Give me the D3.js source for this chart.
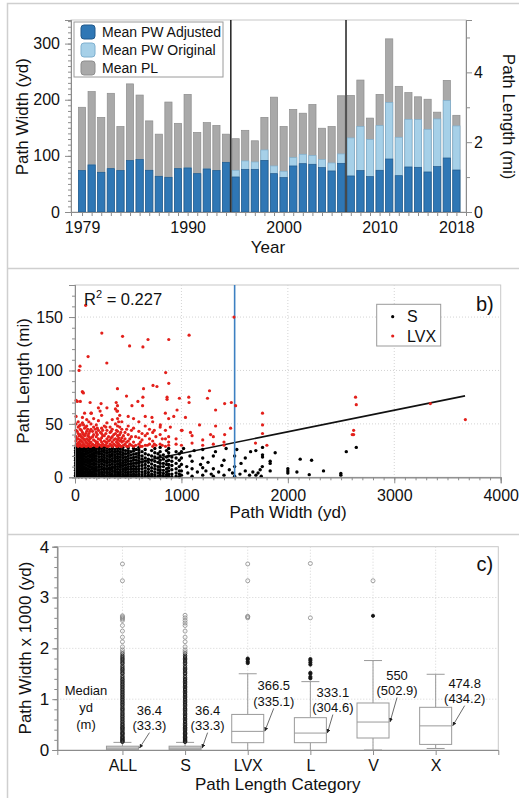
<!DOCTYPE html>
<html>
<head>
<meta charset="utf-8">
<script src="https://cdn.jsdelivr.net/npm/d3@7"></script>
<style>
  body { margin: 0; background: #fff; }
  svg text { font-family: "Liberation Sans", Arial, Helvetica, sans-serif; fill: #111; }
</style>
</head>
<body>
<svg id="fig" width="519" height="798"></svg>
<script>
// ---------- a) yearly means ----------
const years = d3.range(1979, 2019);
const pwAdjusted = [73.7, 83.8, 70.7, 77.2, 73.7, 91.5, 93.3, 74.3, 63.6, 61.8, 77.2, 78.4, 68.3, 76.6, 73.7, 88.5,
  62.4, 76, 76, 92, 68.3, 61.2, 82, 86.1, 85, 79, 73.1, 86.7,
  64.2, 73.7, 63, 74.3, 94.4, 64.7, 80.2, 79.6, 71.3, 80.8, 96.2, 74.8];
const pwOriginal = [73.7, 83.8, 70.7, 77.2, 73.7, 91.5, 93.3, 74.3, 63.6, 61.8, 77.2, 78.4, 68.3, 76.6, 73.7, 88.5,
  74.3, 90.9, 89.1, 110.5, 82, 72.5, 96.8, 102.8, 100.4, 93.3, 87.3, 103.4,
  131.9, 152.1, 128.9, 153.8, 194.8, 133.1, 165.1, 164.5, 147.3, 165.7, 198.4, 153.3];
const meanPL = [3.00, 3.45, 2.71, 3.40, 2.45, 3.67, 3.35, 2.61, 2.23, 3.15, 2.54, 3.37, 2.28, 2.56, 2.48, 2.23,
  2.10, 2.34, 2.04, 2.71, 3.29, 2.45, 2.94, 2.83, 3.08, 2.40, 2.45, 3.33,
  3.34, 3.78, 2.69, 3.37, 4.96, 3.60, 3.42, 3.30, 3.23, 2.86, 3.77, 2.77];
const yearLabels = [1979, 1990, 2000, 2010, 2018];
const breakYears = [1994.5, 2006.5];
const seriesNames = ["Mean PW Adjusted", "Mean PW Original", "Mean PL"];

// ---------- b) width vs length scatter ----------
// columns of S tornadoes: [path width yd, [path lengths mi]]
const sCols = [
  [5, [0.5, 2, 4, 6.5, 9, 11, 13.5, 16, 18, 20.5, 23, 25, 27.5]],
  [20, [1, 3, 5, 7.5, 10, 12.5, 15, 17, 19.5, 22, 24, 26.5, 28]],
  [35, [0.5, 2.5, 4.5, 7, 9.5, 12, 14, 16.5, 19, 21, 23.5, 26, 28]],
  [50, [1, 3.5, 6, 8, 10.5, 13, 15.5, 18, 20, 22.5, 25, 27]],
  [65, [0.5, 2, 4, 6.5, 9, 11.5, 14, 16, 18.5, 21, 23, 25.5, 28]],
  [80, [1.5, 3.5, 5.5, 8, 10, 12.5, 15, 17.5, 20, 22, 24.5, 27]],
  [100, [0.5, 2, 4.5, 7, 9, 11.5, 14, 16.5, 19, 21.5, 24, 26, 28]],
  [120, [1, 3, 5.5, 8, 10.5, 13, 15, 17.5, 20, 22.5, 25, 27.5]],
  [140, [0.5, 2.5, 4.5, 7, 9.5, 12, 14.5, 16.5, 19, 21, 23.5, 26, 28]],
  [160, [1, 3, 5, 7.5, 10, 12.5, 15, 17, 19.5, 22, 24.5, 27]],
  [180, [0.5, 2, 4.5, 6.5, 9, 11.5, 13.5, 16, 18.5, 21, 23, 25.5, 28]],
  [200, [1, 3, 5.5, 8, 10, 12.5, 15, 17.5, 20, 22.5, 24.5, 27]],
  [225, [0.5, 2.5, 4.5, 7, 9.5, 11.5, 14, 16.5, 19, 21.5, 23.5, 26, 28]],
  [250, [1, 3, 5, 7.5, 10, 12.5, 15, 17, 19.5, 22, 24.5, 27]],
  [275, [0.5, 2, 4.5, 7, 9, 11.5, 14, 16, 18.5, 21, 23.5, 25.5, 28]],
  [300, [1, 3.5, 5.5, 8, 10.5, 13, 15, 17.5, 20, 22.5, 25, 27.5]],
  [325, [0.5, 2.5, 4.5, 7, 9, 11.5, 14, 16.5, 19, 21, 23.5, 26]],
  [350, [1, 3, 5.5, 8, 10, 12.5, 15, 17.5, 20, 22, 24.5, 27, 28.5]],
  [375, [0.5, 2, 4.5, 6.5, 9, 11.5, 14, 16, 18.5, 21, 23.5, 26]],
  [400, [1, 3, 5, 7.5, 10, 12.5, 15, 17.5, 19.5, 22, 24.5, 27, 28.5]],
  [425, [0.5, 2.5, 4.5, 7, 9.5, 12, 14, 16.5, 19, 21.5, 24, 26.5]],
  [450, [1, 3, 5.5, 8, 10.5, 13, 15.5, 18, 20.5, 23, 25.5, 28]],
  [475, [0.5, 2, 4.5, 7, 9, 11.5, 14, 16.5, 19, 22, 25]],
  [500, [1, 3, 5, 7.5, 10, 12.5, 15, 17.5, 20, 22.5, 25, 27.5]],
  [525, [0.5, 2.5, 5, 7.5, 10, 12.5, 15, 18, 21, 24]],
  [550, [1, 3, 5.5, 8, 10.5, 13, 16, 18.5, 21.5, 24.5, 27]],
  [575, [0.5, 2.5, 5, 7.5, 10, 13, 16, 19, 22, 26]],
  [600, [1, 3, 5.5, 8, 10.5, 13, 15.5, 18, 20.5, 23, 25.5, 28]],
  [630, [0.5, 2.5, 5, 8, 11, 14, 17, 20, 24]],
  [660, [1, 3.5, 6, 9, 12, 15, 18, 22, 26]],
  [690, [0.5, 2, 4.5, 7.5, 10.5, 14, 17, 21]],
  [720, [1, 3, 6, 9, 12.5, 16, 20, 25]],
  [750, [0.5, 2.5, 5, 8, 11, 15, 19, 23, 27]],
  [780, [1, 4, 7, 10, 14, 18, 22]],
  [800, [0.5, 2, 4.5, 7, 10, 13, 16, 20, 24, 28]],
  [830, [1, 3.5, 6.5, 10, 13, 17, 21]],
  [860, [0.5, 2.5, 5, 8, 12, 15, 19, 25]],
  [880, [1, 3, 6, 9, 12, 16, 20, 23, 27]],
  [910, [0.5, 3, 7, 11, 15, 19]],
  [950, [1, 4, 8, 13, 18, 24]],
  [980, [0.5, 3, 6, 10, 16, 22]]
];
const sScatter = [
  [1000, 2], [1000, 6], [1000, 12], [1000, 18], [1000, 24], [1020, 27], [1050, 10], [1060, 4], [1080, 20],
  [1100, 1], [1100, 8], [1100, 15], [1120, 25], [1150, 5], [1180, 12], [1200, 2], [1200, 9], [1200, 18],
  [1200, 26], [1230, 6], [1250, 14], [1280, 3], [1300, 1], [1300, 8], [1300, 20], [1320, 24], [1350, 5],
  [1380, 11], [1400, 2], [1400, 16], [1420, 27], [1450, 7], [1480, 4], [1500, 1], [1500, 10], [1500, 20],
  [1520, 26], [1550, 3], [1560, 13], [1600, 6], [1600, 18], [1640, 2], [1650, 24], [1671, 5], [1699, 25],
  [1700, 2], [1720, 4], [1740, 7], [1750, 1], [1760, 10], [1762, 28], [1762, 21], [1762, 19], [1834, 15],
  [1834, 13], [1834, 6], [1881, 23], [2000, 8], [2000, 6], [2000, 4], [2085, 5], [2116, 17], [2201, 2.5],
  [2223, 16], [2335, 6], [2498, 3.5], [2498, 2], [2549, 24], [2643, 28]
];
const lvxCols = [
  [10, [30, 34, 38, 44, 50, 57, 72]], [20, [31, 36, 43]], [30, [29, 32, 36, 41, 47, 52]],
  [40, [30, 33, 39, 48]], [50, [31, 35, 40, 45, 49, 71]], [60, [29, 34, 38, 44]],
  [70, [29, 33, 37, 42, 51, 56, 80]], [80, [31, 36, 40, 49]], [90, [30, 35, 39, 46, 60]],
  [100, [29, 33, 41, 47]], [110, [29, 32, 36, 43, 48, 54]], [120, [30, 35, 39, 45]],
  [130, [31, 34, 38, 41, 52]], [140, [29, 32, 36, 43]], [150, [29, 33, 37, 45, 50, 60]],
  [165, [31, 38, 43]], [175, [30, 35, 40, 47, 55]], [190, [30, 34, 45]],
  [200, [29, 32, 38, 42, 49]], [210, [29, 33, 40, 46]], [220, [31, 36, 44, 53, 65]],
  [240, [30, 35, 42]], [250, [29, 33, 37, 41, 46, 58]], [260, [31, 39, 44]],
  [275, [30, 34, 39, 48]], [290, [30, 33, 41, 47]], [300, [29, 32, 36, 44, 51, 65]],
  [315, [29, 34, 38]], [330, [31, 35, 42, 47]], [340, [30, 37, 43]],
  [350, [29, 33, 38, 45, 54]], [365, [31, 35, 40]], [380, [30, 36, 41, 50, 64]],
  [390, [29, 33, 44]], [400, [29, 32, 35, 39, 43, 48, 55, 62]], [410, [31, 37, 52]],
  [420, [30, 34, 40, 47, 58]], [430, [29, 35, 42]], [440, [29, 33, 37, 45, 52]],
  [455, [30, 34, 39]], [470, [31, 36, 42]], [485, [29, 33, 45]],
  [500, [29, 34, 40, 48, 57]], [515, [31, 36]], [530, [30, 38, 44]], [550, [29, 33, 46, 55]],
  [570, [30, 38]], [600, [31, 37, 43, 52]], [615, [29, 33]], [630, [29, 35, 41]],
  [660, [30, 39, 48, 57]], [680, [30, 41]], [700, [31, 36, 45]], [730, [29, 34, 42, 52]],
  [745, [31, 44]], [760, [30, 38]], [800, [31, 40, 47]], [820, [30, 36]], [850, [29, 36, 44]],
  [880, [30, 33, 38, 55]], [950, [31, 36]], [1000, [30, 44]], [1100, [32, 39]], [1200, [30, 35]],
  [1300, [31, 38]], [1400, [30, 33]]
];
const lvxScatter = [
  [100, 161], [252, 135], [447, 132], [686, 129], [881, 129], [1072, 133], [513, 123], [638, 122],
  [123, 113], [299, 107], [47, 104], [38, 100], [1494, 150], [852, 98], [881, 88], [399, 83], [644, 83],
  [733, 86], [770, 85], [1264, 81], [69, 80], [79, 79], [484, 76], [591, 71], [638, 75], [865, 75],
  [981, 74], [1069, 75], [1072, 70], [1245, 74], [1406, 69], [1469, 70], [1509, 67], [22, 71], [142, 70],
  [245, 69], [387, 70], [399, 67], [535, 67], [635, 67], [865, 73], [959, 63], [1321, 63], [154, 60],
  [236, 62], [393, 62], [849, 60], [723, 56], [928, 57], [1038, 56], [1170, 49], [1321, 48], [1462, 46],
  [1406, 40], [1274, 40], [1085, 42], [1006, 44], [896, 47], [802, 49],
  [1696, 32], [1762, 60], [1762, 49], [1762, 41], [1803, 30], [2636, 75], [2643, 68], [2618, 44],
  [2605, 40], [2618, 40], [3339, 69], [3668, 54]
];
const fit = { intercept: 2.2, slope: 0.0202, xMax: 3665, r2: "0.227" };
const widthCut = 1500;

// ---------- c) path width by path length category ----------
const categories = ["ALL", "S", "LVX", "L", "V", "X"];
const boxQ1 = [0.008, 0.008, 0.144, 0.144, 0.236, 0.11];
const boxMedian = [0.0364, 0.0364, 0.3665, 0.3331, 0.55, 0.4748];
const boxQ3 = [0.075, 0.075, 0.70, 0.636, 0.925, 0.84];
const whiskerLo = [0, 0, 0, 0, 0, 0.03];
const whiskerHi = [0.15, 0.15, 1.50, 1.345, 1.76, 1.49];
const medianYd = ["36.4", "36.4", "366.5", "333.1", "550", "474.8"];
const medianM = ["(33.3)", "(33.3)", "(335.1)", "(304.6)", "(502.9)", "(434.2)"];
const denseOut = [0.16, 0.17, 0.19, 0.2, 0.22, 0.24, 0.25, 0.27, 0.3, 0.32, 0.33, 0.35, 0.38, 0.4, 0.42, 0.44,
  0.45, 0.48, 0.5, 0.52, 0.55, 0.57, 0.6, 0.62, 0.65, 0.67, 0.7, 0.72, 0.75, 0.78, 0.8, 0.82, 0.85, 0.88, 0.9,
  0.93, 0.95, 0.98, 1.0, 1.03, 1.05, 1.08, 1.1, 1.13, 1.15, 1.18, 1.2, 1.23, 1.25, 1.28, 1.3, 1.33, 1.35,
  1.38, 1.4, 1.43, 1.46, 1.5, 1.52, 1.55, 1.58, 1.6, 1.63, 1.66, 1.7, 1.72, 1.75, 1.78, 1.8, 1.83, 1.86, 1.9];
const nearOut = [denseOut, denseOut, [1.71, 1.74, 1.78, 1.8], [1.41, 1.44, 1.5, 1.52, 1.68, 1.72, 1.76, 1.79], [2.64], []];
const farOut = [
  [1.93, 1.97, 2.03, 2.13, 2.22, 2.34, 2.45, 2.55, 2.58, 2.6, 2.62, 2.64, 3.33, 3.66],
  [1.93, 1.97, 2.03, 2.13, 2.22, 2.34, 2.45, 2.5, 2.55, 2.6, 2.65],
  [2.6, 2.62, 2.63, 3.33, 3.66],
  [2.6, 3.67],
  [3.33],
  []
];
// label offsets from box right edge / median (layout only)
const annDx = [11, 6.5, 10, 6.5, 8, 13];
const annDy = [38, 38, 45.5, 41, 47, 42.7];

const svg = d3.select("#fig");
const axisGrey = "#8c8c8c", frameGrey = "#c8c8c8";

// figure panel borders
svg.append("path").attr("d", "M7.5,798V3.5H519M7.5,268.5H519M7.5,534.5H519")
  .attr("fill", "none").attr("stroke", "#cfcfcf").attr("stroke-width", 1.5);

function styleAxis(g, size) {
  g.selectAll("path.domain").attr("stroke", axisGrey);
  g.selectAll(".tick line").attr("stroke", axisGrey);
  g.selectAll(".tick text").attr("font-size", size || 16).attr("fill", "#111")
    .attr("font-family", '"Liberation Sans", Arial, sans-serif');
}

// ================= panel a =================
const xA = d3.scaleLinear().domain([1977.85, 2019]).range([71, 466]);
const yL = d3.scaleLinear().domain([0, 342]).range([212, 20]);
const yR = d3.scaleLinear().domain([0, 5.5]).range([212, 20]);
const barW = 7.2;

svg.append("rect").attr("x", 71).attr("y", 20).attr("width", 395).attr("height", 192)
  .attr("fill", "none").attr("stroke", frameGrey);

const gA = svg.append("g");
gA.selectAll("rect.pl").data(years).join("rect")
  .attr("x", d => xA(d) - barW / 2).attr("width", barW)
  .attr("y", (d, i) => yR(meanPL[i])).attr("height", (d, i) => yR(0) - yR(meanPL[i]))
  .attr("fill", "#a9a9a9").attr("stroke", "#8d8d8d").attr("stroke-width", 0.7);
gA.selectAll("rect.orig").data(years).join("rect")
  .attr("x", d => xA(d) - barW / 2).attr("width", barW)
  .attr("y", (d, i) => yL(pwOriginal[i])).attr("height", (d, i) => yL(0) - yL(pwOriginal[i]))
  .attr("fill", "#a6d0e8").attr("stroke", "#7fb0cf").attr("stroke-width", 0.7);
gA.selectAll("rect.adj").data(years).join("rect")
  .attr("x", d => xA(d) - barW / 2).attr("width", barW)
  .attr("y", (d, i) => yL(pwAdjusted[i])).attr("height", (d, i) => yL(0) - yL(pwAdjusted[i]))
  .attr("fill", "#2f77b5").attr("stroke", "#21598b").attr("stroke-width", 0.7);

svg.selectAll("line.brk").data(breakYears).join("line")
  .attr("x1", d => xA(d)).attr("x2", d => xA(d)).attr("y1", 20).attr("y2", 212)
  .attr("stroke", "#111").attr("stroke-width", 1.4);

svg.append("g").attr("transform", "translate(71,0)")
  .call(d3.axisLeft(yL).tickValues(d3.range(0, 341, 10)).tickSize(3).tickFormat(""))
  .call(g => styleAxis(g));
svg.append("g").attr("transform", "translate(71,0)")
  .call(d3.axisLeft(yL).tickValues([0, 100, 200, 300]).tickSize(6).tickPadding(5))
  .call(g => styleAxis(g));
svg.append("g").attr("transform", "translate(466,0)")
  .call(d3.axisRight(yR).tickValues([1, 3, 5]).tickSize(4).tickFormat(""))
  .call(g => styleAxis(g));
svg.append("g").attr("transform", "translate(466,0)")
  .call(d3.axisRight(yR).tickValues([0, 2, 4]).tickSize(6).tickPadding(2).tickFormat(d3.format("d")))
  .call(g => styleAxis(g));
svg.append("g").attr("transform", "translate(0,212)")
  .call(d3.axisBottom(xA).tickValues(years).tickSize(4)
    .tickFormat(d => yearLabels.includes(d) ? String(d) : ""))
  .call(g => styleAxis(g))
  .call(g => g.selectAll(".tick text").attr("y", 10));

svg.append("text").attr("x", 268).attr("y", 253).attr("text-anchor", "middle")
  .attr("font-size", 17).text("Year");
svg.append("text").attr("transform", "translate(22.5,116.7) rotate(-90)").attr("dy", "0.35em")
  .attr("text-anchor", "middle").attr("font-size", 17).text("Path Width (yd)");
svg.append("text").attr("transform", "translate(509,116.7) rotate(90)").attr("dy", "0.35em")
  .attr("text-anchor", "middle").attr("font-size", 17).text("Path Length (mi)");

const legA = svg.append("g");
legA.append("rect").attr("x", 74).attr("y", 22).attr("width", 149).attr("height", 55)
  .attr("fill", "#fff").attr("stroke", "#9a9a9a");
const legFill = ["#2f77b5", "#a6d0e8", "#a9a9a9"], legStroke = ["#21598b", "#7fb0cf", "#8d8d8d"];
seriesNames.forEach((n, i) => {
  legA.append("rect").attr("x", 81).attr("y", 25 + i * 18).attr("width", 14).attr("height", 14)
    .attr("rx", 3).attr("fill", legFill[i]).attr("stroke", legStroke[i]);
  legA.append("text").attr("x", 102).attr("y", 32 + i * 18).attr("dy", "0.35em")
    .attr("font-size", 14).text(n);
});

// ================= panel b =================
const xB = d3.scaleLinear().domain([0, 4000]).range([75, 500.7]);
const yB = d3.scaleLinear().domain([0, 180]).range([477.3, 285]);

svg.append("rect").attr("x", 75).attr("y", 285).attr("width", 425.7).attr("height", 192.3)
  .attr("fill", "none").attr("stroke", frameGrey);
svg.selectAll("line.gxb").data([1000, 2000, 3000]).join("line")
  .attr("x1", d => xB(d)).attr("x2", d => xB(d)).attr("y1", 285).attr("y2", 477.3)
  .attr("stroke", "#d4d4d4").attr("stroke-dasharray", "1,2");
svg.selectAll("line.gyb").data([50, 100, 150]).join("line")
  .attr("x1", 75).attr("x2", 500.7).attr("y1", d => yB(d)).attr("y2", d => yB(d))
  .attr("stroke", "#d4d4d4").attr("stroke-dasharray", "1,2");

svg.append("line").attr("x1", xB(0)).attr("x2", xB(fit.xMax))
  .attr("y1", yB(fit.intercept)).attr("y2", yB(fit.intercept + fit.slope * fit.xMax))
  .attr("stroke", "#111").attr("stroke-width", 1.6);

const sPts = sCols.flatMap(([x, ys]) => ys.map(y => [x, y])).concat(sScatter);
const lvxPts = lvxCols.flatMap(([x, ys]) => ys.map(y => [x, y])).concat(lvxScatter);
svg.append("g").selectAll("circle").data(sPts).join("circle")
  .attr("cx", d => xB(d[0])).attr("cy", d => yB(d[1])).attr("r", 1.7).attr("fill", "#000");
svg.append("line").attr("x1", xB(widthCut)).attr("x2", xB(widthCut)).attr("y1", 285).attr("y2", 477.3)
  .attr("stroke", "#3d80c2").attr("stroke-width", 1.6);
svg.append("g").selectAll("circle").data(lvxPts).join("circle")
  .attr("cx", d => xB(d[0])).attr("cy", d => yB(d[1])).attr("r", 1.6).attr("fill", "#e3201b");

svg.append("g").attr("transform", "translate(75,0)")
  .call(d3.axisLeft(yB).tickValues(d3.range(0, 181, 10)).tickSize(3).tickFormat(""))
  .call(g => styleAxis(g));
svg.append("g").attr("transform", "translate(75,0)")
  .call(d3.axisLeft(yB).tickValues([0, 50, 100, 150]).tickSize(6).tickPadding(6))
  .call(g => styleAxis(g));
svg.append("g").attr("transform", "translate(0,477.3)")
  .call(d3.axisBottom(xB).tickValues(d3.range(0, 4001, 100)).tickSize(3).tickFormat(""))
  .call(g => styleAxis(g));
svg.append("g").attr("transform", "translate(0,477.3)")
  .call(d3.axisBottom(xB).tickValues([0, 1000, 2000, 3000, 4000]).tickSize(6).tickPadding(6).tickFormat(d3.format("d")))
  .call(g => styleAxis(g));

const r2 = svg.append("text").attr("x", 84).attr("y", 305).attr("font-size", 16.5);
r2.append("tspan").text("R");
r2.append("tspan").attr("dy", -7).attr("font-size", 11).text("2");
r2.append("tspan").attr("dy", 7).text(" = " + fit.r2);

svg.append("text").attr("x", 476).attr("y", 311).attr("font-size", 20).text("b)");
svg.append("text").attr("x", 288).attr("y", 518).attr("text-anchor", "middle")
  .attr("font-size", 17).text("Path Width (yd)");
svg.append("text").attr("transform", "translate(23,381) rotate(-90)").attr("dy", "0.35em")
  .attr("text-anchor", "middle").attr("font-size", 17).text("Path Length (mi)");

const legB = svg.append("g");
legB.append("rect").attr("x", 376.7).attr("y", 304.3).attr("width", 64).attr("height", 41.7)
  .attr("fill", "#fff").attr("stroke", "#9a9a9a");
[["S", "#000"], ["LVX", "#e3201b"]].forEach(([n, c], i) => {
  legB.append("circle").attr("cx", 392.7).attr("cy", 316.7 + i * 19.3).attr("r", 1.6).attr("fill", c);
  legB.append("text").attr("x", 407).attr("y", 316.7 + i * 19.3).attr("dy", "0.35em")
    .attr("font-size", 16).text(n);
});

// ================= panel c =================
const xC = d3.scaleLinear().domain([-0.04, 7]).range([57.3, 498.3]);
const yC = d3.scaleLinear().domain([0, 4]).range([750, 546.7]);
const pos = i => xC(i + 1);
const boxHalf = 16, capHalf = 9;

svg.append("rect").attr("x", 57.3).attr("y", 546.7).attr("width", 441).attr("height", 203.3)
  .attr("fill", "none").attr("stroke", frameGrey);
svg.selectAll("line.gxc").data(categories).join("line")
  .attr("x1", (d, i) => pos(i)).attr("x2", (d, i) => pos(i)).attr("y1", 546.7).attr("y2", 750)
  .attr("stroke", "#d4d4d4").attr("stroke-dasharray", "1,2");
svg.selectAll("line.gyc").data([1, 2, 3]).join("line")
  .attr("x1", 57.3).attr("x2", 498.3).attr("y1", d => yC(d)).attr("y2", d => yC(d))
  .attr("stroke", "#d4d4d4").attr("stroke-dasharray", "1,2");

const boxG = svg.append("g").attr("stroke", "#9a9a9a").attr("stroke-width", 1);
categories.forEach((c, i) => {
  const x = pos(i);
  boxG.append("line").attr("x1", x).attr("x2", x).attr("y1", yC(boxQ3[i])).attr("y2", yC(whiskerHi[i]));
  boxG.append("line").attr("x1", x).attr("x2", x).attr("y1", yC(boxQ1[i])).attr("y2", yC(whiskerLo[i]));
  boxG.append("line").attr("x1", x - capHalf).attr("x2", x + capHalf).attr("y1", yC(whiskerHi[i])).attr("y2", yC(whiskerHi[i]));
  if (whiskerLo[i] > 0 || i === 4)
    boxG.append("line").attr("x1", x - capHalf).attr("x2", x + capHalf).attr("y1", yC(whiskerLo[i])).attr("y2", yC(whiskerLo[i]));
  boxG.append("rect").attr("x", x - boxHalf).attr("width", boxHalf * 2)
    .attr("y", yC(boxQ3[i])).attr("height", yC(boxQ1[i]) - yC(boxQ3[i]))
    .attr("fill", i < 2 ? "#d8d8d8" : "#fff");
  boxG.append("line").attr("x1", x - boxHalf).attr("x2", x + boxHalf)
    .attr("y1", yC(boxMedian[i])).attr("y2", yC(boxMedian[i]));

  boxG.append("g").selectAll("circle").data(nearOut[i]).join("circle")
    .attr("cx", x).attr("cy", d => yC(d)).attr("r", i < 2 ? 1.7 : 1.6)
    .attr("fill", i < 2 ? "none" : "#111").attr("stroke", "#1a1a1a").attr("stroke-width", 0.9);
  boxG.append("g").selectAll("circle").data(farOut[i]).join("circle")
    .attr("cx", x).attr("cy", d => yC(d)).attr("r", 2)
    .attr("fill", "none").attr("stroke", "#8a8a8a").attr("stroke-width", 0.8);
});

svg.append("defs").append("marker").attr("id", "arr").attr("viewBox", "0 0 6 6")
  .attr("refX", 6).attr("refY", 3).attr("markerWidth", 5).attr("markerHeight", 5).attr("orient", "auto")
  .append("path").attr("d", "M0,0L6,3L0,6z").attr("fill", "#222");

categories.forEach((c, i) => {
  const bx = pos(i) + boxHalf, my = yC(boxMedian[i]);
  const cx = bx + annDx[i], l1 = my - annDy[i];
  svg.append("text").attr("x", cx).attr("y", l1).attr("dy", "0.35em").attr("text-anchor", "middle")
    .attr("font-size", 13).text(medianYd[i]);
  svg.append("text").attr("x", cx).attr("y", l1 + 15.5).attr("dy", "0.35em").attr("text-anchor", "middle")
    .attr("font-size", 13).text(medianM[i]);
  svg.append("line").attr("x1", cx).attr("y1", l1 + 22.5).attr("x2", bx + 1).attr("y2", my)
    .attr("stroke", "#444").attr("stroke-width", 0.8).attr("marker-end", "url(#arr)");
});

["Median", "yd", "(m)"].forEach((t, i) => {
  svg.append("text").attr("x", 86).attr("y", 690.7 + i * 16.8).attr("dy", "0.35em")
    .attr("text-anchor", "middle").attr("font-size", 13).text(t);
});

svg.append("g").attr("transform", "translate(57.3,0)")
  .call(d3.axisLeft(yC).tickValues(d3.range(0, 4.01, 0.2)).tickSize(3).tickFormat(""))
  .call(g => styleAxis(g));
svg.append("g").attr("transform", "translate(57.3,0)")
  .call(d3.axisLeft(yC).tickValues([0, 1, 2, 3, 4]).tickSize(5).tickPadding(3).tickFormat(d3.format("d")))
  .call(g => styleAxis(g, 17));
svg.append("g").attr("transform", "translate(0,750)")
  .call(d3.axisBottom(xC).tickValues([1, 2, 3, 4, 5, 6]).tickSize(5).tickPadding(5)
    .tickFormat(d => categories[d - 1]))
  .call(g => styleAxis(g));

svg.append("text").attr("x", 476.5).attr("y", 571).attr("font-size", 20).text("c)");
svg.append("text").attr("x", 277.7).attr("y", 790).attr("text-anchor", "middle")
  .attr("font-size", 17).text("Path Length Category");
svg.append("text").attr("transform", "translate(25,648) rotate(-90)").attr("dy", "0.35em")
  .attr("text-anchor", "middle").attr("font-size", 17).text("Path Width  x 1000 (yd)");
</script>
</body>
</html>
